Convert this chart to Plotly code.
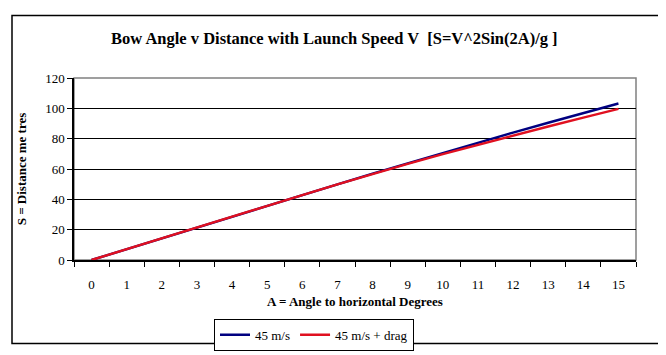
import plotly.graph_objects as go

angles = [str(a) for a in range(16)]
speed45 = [0, 7.2, 14.4, 21.6, 28.7, 35.8, 42.9, 49.9, 56.9, 63.8, 70.6, 77.3, 84.0, 90.5, 96.9, 103.2]
speed45_drag = [0, 7.2, 14.4, 21.5, 28.6, 35.7, 42.8, 49.8, 56.8, 63.4, 69.8, 76.0, 82.0, 88.0, 93.9, 99.7]
y_ticks = [0, 20, 40, 60, 80, 100, 120]

W, H = 666, 355
L, R, T, B = 66, 628, 70, 262
SERIF = "Liberation Serif, Times New Roman, serif"

fig = go.Figure()
fig.add_trace(go.Scatter(x=angles, y=speed45, mode="lines", name="45 m/s",
                         line=dict(color="#000080", width=2.4)))
fig.add_trace(go.Scatter(x=angles, y=speed45_drag, mode="lines", name="45 m/s + drag",
                         line=dict(color="#E01020", width=2.4)))

def px(x):
    return (x - L) / (R - L)

def py(y):
    return (B - y) / (B - T)

fig.update_layout(
    width=W, height=H,
    margin=dict(l=L, r=W - R, t=T, b=H - B),
    paper_bgcolor="white", plot_bgcolor="white",
    font=dict(family=SERIF, size=12, color="black"),
    title=dict(text="<b>Bow Angle v Distance with Launch Speed V  [S=V^2Sin(2A)/g ]</b>",
               x=0.49, xanchor="center", y=1 - 30 / H, yanchor="middle",
               font=dict(family=SERIF, size=16.5, color="black")),
    xaxis=dict(type="category", range=[-0.5, 15.5], tickson="boundaries",
               ticks="outside", ticklen=5, ticklabelstandoff=12,
               tickcolor="black", showline=True, linecolor="black", linewidth=1.5,
               showgrid=False, zeroline=False,
               tickfont=dict(family=SERIF, size=13),
               title=dict(text="<b>A = Angle to horizontal Degrees</b>", standoff=6,
                          font=dict(family=SERIF, size=13))),
    yaxis=dict(range=[0, 120], tickvals=y_ticks, ticks="outside", ticklen=5,
               tickcolor="black", showline=True, linecolor="black", linewidth=1.5,
               showgrid=True, gridcolor="black", gridwidth=1, zeroline=False,
               tickfont=dict(family=SERIF, size=13),
               title=dict(text="<b>S = Distance me tres</b>", standoff=16,
                          font=dict(family=SERIF, size=13))),
    showlegend=True,
    legend=dict(orientation="h", x=px(206), xanchor="left", y=py(324), yanchor="top",
                bordercolor="black", borderwidth=1, bgcolor="white",
                font=dict(family=SERIF, size=13),
                itemwidth=30, tracegroupgap=0),
)

# plot area border (grey top/right)
fig.add_shape(type="rect", xref="paper", yref="paper", x0=0, x1=1, y0=0, y1=1,
              line=dict(color="#808080", width=1.5), layer="below")
# outer chart border
fig.add_shape(type="rect", xref="paper", yref="paper",
              x0=px(4), x1=px(660), y0=py(350), y1=py(4),
              line=dict(color="black", width=1.5))

fig.write_html("out.html")
